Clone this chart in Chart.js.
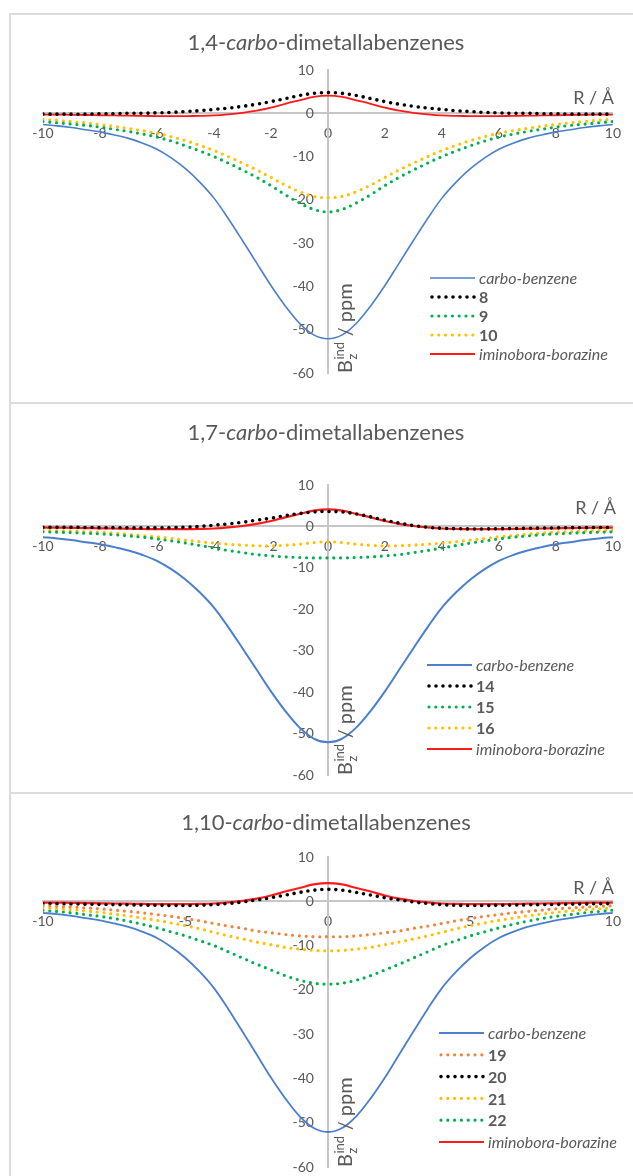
<!DOCTYPE html>
<html>
<head>
<meta charset="utf-8">
<script src="https://cdn.jsdelivr.net/npm/chart.js@4.4.0/dist/chart.umd.min.js"></script>
<style>
  html, body { margin: 0; padding: 0; background: #fff; }
  body { width: 633px; height: 1176px; position: relative; overflow: hidden; }
  .frame { position: absolute; left: 9px; width: 660px; border: 2px solid #dcdcdc; box-sizing: border-box; }
  canvas { position: absolute; left: 10px; }
</style>
</head>
<body>
<div class="frame" style="top:13px;height:391px"></div>
<div class="frame" style="top:402px;height:392px"></div>
<div class="frame" style="top:792px;height:420px"></div>
<canvas id="chart14" width="623" height="386" style="top:16px"></canvas>
<canvas id="chart17" width="623" height="387" style="top:405px"></canvas>
<canvas id="chart110" width="623" height="381" style="top:795px"></canvas>
<script>
// R / Angstrom, sampled every 0.5
const rValues = [-10, -9.5, -9, -8.5, -8, -7.5, -7, -6.5, -6, -5.5, -5, -4.5, -4, -3.5, -3, -2.5, -2, -1.5, -1, -0.5, 0,
  0.5, 1, 1.5, 2, 2.5, 3, 3.5, 4, 4.5, 5, 5.5, 6, 6.5, 7, 7.5, 8, 8.5, 9, 9.5, 10];

// reference compounds (same in all three panels)
const carboBenzene = [-2.6, -2.9, -3.3, -3.8, -4.3, -5.0, -5.8, -6.9, -8.3, -10.3, -12.8, -15.9, -19.6, -24.3, -29.4, -34.6, -39.8, -44.5, -48.5, -51.2, -52.1,
  -51.2, -48.5, -44.5, -39.8, -34.6, -29.4, -24.3, -19.6, -15.9, -12.8, -10.3, -8.3, -6.9, -5.8, -5.0, -4.3, -3.8, -3.3, -2.9, -2.6];
const iminoboraBorazine = [-0.3, -0.3, -0.35, -0.4, -0.45, -0.5, -0.55, -0.6, -0.65, -0.65, -0.65, -0.6, -0.5, -0.25, 0.1, 0.6, 1.3, 2.2, 3.0, 3.8, 4.1,
  3.8, 3.0, 2.2, 1.3, 0.6, 0.1, -0.25, -0.5, -0.6, -0.65, -0.65, -0.65, -0.6, -0.55, -0.5, -0.45, -0.4, -0.35, -0.3, -0.3];

// 1,4-carbo-dimetallabenzenes
const comp8 = [-0.2, -0.2, -0.2, -0.2, -0.1, -0.1, 0, 0, 0.1, 0.2, 0.4, 0.6, 0.9, 1.2, 1.6, 2.1, 2.7, 3.4, 4.1, 4.6, 4.8,
  4.6, 4.1, 3.4, 2.7, 2.1, 1.6, 1.2, 0.9, 0.6, 0.4, 0.2, 0.1, 0, 0, -0.1, -0.1, -0.2, -0.2, -0.2, -0.2];
const comp9 = [-1.9, -2.2, -2.5, -2.8, -3.2, -3.7, -4.2, -4.8, -5.5, -6.4, -7.5, -8.7, -10.0, -11.5, -13.1, -14.8, -16.7, -18.8, -20.7, -22.2, -22.8,
  -22.2, -20.7, -18.8, -16.7, -14.8, -13.1, -11.5, -10.0, -8.7, -7.5, -6.4, -5.5, -4.8, -4.2, -3.7, -3.2, -2.8, -2.5, -2.2, -1.9];
const comp10 = [-1.4, -1.6, -1.9, -2.2, -2.6, -3.0, -3.5, -4.0, -4.6, -5.4, -6.3, -7.4, -8.6, -10.0, -11.5, -13.1, -14.8, -16.6, -18.1, -19.2, -19.5,
  -19.2, -18.1, -16.6, -14.8, -13.1, -11.5, -10.0, -8.6, -7.4, -6.3, -5.4, -4.6, -4.0, -3.5, -3.0, -2.6, -2.2, -1.9, -1.6, -1.4];

// 1,7-carbo-dimetallabenzenes
const comp14 = [-0.2, -0.2, -0.2, -0.25, -0.3, -0.3, -0.35, -0.35, -0.35, -0.3, -0.2, 0, 0.3, 0.6, 1.0, 1.5, 2.0, 2.6, 3.1, 3.5, 3.6,
  3.5, 3.0, 2.3, 1.5, 0.8, 0.2, -0.2, -0.45, -0.55, -0.6, -0.6, -0.55, -0.5, -0.45, -0.4, -0.35, -0.3, -0.3, -0.25, -0.25];
const comp15 = [-1.3, -1.4, -1.5, -1.65, -1.8, -2.0, -2.3, -2.6, -3.0, -3.5, -4.0, -4.6, -5.2, -5.8, -6.3, -6.8, -7.1, -7.35, -7.5, -7.6, -7.6,
  -7.6, -7.5, -7.35, -7.1, -6.8, -6.3, -5.8, -5.2, -4.6, -4.0, -3.5, -3.0, -2.6, -2.3, -2.0, -1.8, -1.65, -1.5, -1.4, -1.3];
const comp16 = [-0.9, -1.0, -1.1, -1.25, -1.4, -1.6, -1.9, -2.2, -2.5, -2.9, -3.3, -3.7, -4.0, -4.3, -4.5, -4.65, -4.7, -4.55, -4.3, -3.9, -3.7,
  -3.9, -4.3, -4.55, -4.7, -4.65, -4.5, -4.3, -4.0, -3.7, -3.3, -2.9, -2.5, -2.2, -1.9, -1.6, -1.4, -1.25, -1.1, -1.0, -0.9];

// 1,10-carbo-dimetallabenzenes
const comp19 = [-1.0, -1.15, -1.3, -1.5, -1.7, -2.0, -2.3, -2.6, -3.0, -3.4, -3.9, -4.4, -5.0, -5.6, -6.1, -6.7, -7.1, -7.5, -7.8, -8.0, -8.0,
  -8.0, -7.8, -7.5, -7.1, -6.7, -6.1, -5.6, -5.0, -4.4, -3.9, -3.4, -3.0, -2.6, -2.3, -2.0, -1.7, -1.5, -1.3, -1.15, -1.0];
const comp20 = [-0.5, -0.55, -0.6, -0.65, -0.7, -0.75, -0.8, -0.85, -0.9, -0.95, -0.95, -0.9, -0.75, -0.5, -0.15, 0.3, 0.8, 1.4, 2.0, 2.5, 2.7,
  2.5, 2.0, 1.4, 0.8, 0.3, -0.15, -0.5, -0.75, -0.9, -0.95, -0.95, -0.9, -0.85, -0.8, -0.75, -0.7, -0.65, -0.6, -0.55, -0.5];
const comp21 = [-1.5, -1.7, -1.9, -2.2, -2.5, -2.9, -3.3, -3.8, -4.3, -4.9, -5.5, -6.2, -7.0, -7.8, -8.5, -9.2, -9.8, -10.4, -10.8, -11.1, -11.2,
  -11.1, -10.8, -10.4, -9.8, -9.2, -8.5, -7.8, -7.0, -6.2, -5.5, -4.9, -4.3, -3.8, -3.3, -2.9, -2.5, -2.2, -1.9, -1.7, -1.5];
const comp22 = [-2.0, -2.3, -2.6, -3.0, -3.4, -3.9, -4.5, -5.2, -6.0, -6.9, -7.8, -8.9, -10.0, -11.4, -12.8, -14.2, -15.5, -16.8, -17.8, -18.5, -18.7,
  -18.5, -17.8, -16.8, -15.5, -14.2, -12.8, -11.4, -10.0, -8.9, -7.8, -6.9, -6.0, -5.2, -4.5, -3.9, -3.4, -3.0, -2.6, -2.3, -2.0];

const yTicksMin = -60;
const yTicksMax = 10;

const FONT = 'Lato, "Open Sans", sans-serif';
const GRAY = '#595959';
const AXIS = '#c6c6c6';
const COLORS = {
  blue: '#4a7fcb',
  black: '#000000',
  green: '#00b050',
  yellow: '#ffc000',
  orange: '#f4823a',
  red: '#ff1a1a'
};

function points(values) {
  return values.map((v, i) => ({ x: rValues[i], y: v }));
}

function solidLine(label, values, color, width) {
  return {
    label: label,
    data: points(values),
    borderColor: color,
    backgroundColor: color,
    borderWidth: width,
    pointRadius: 0,
    tension: 0.35,
    fill: false
  };
}

function dottedLine(label, values, color, width, gap) {
  return {
    label: label,
    data: points(values),
    borderColor: color,
    backgroundColor: color,
    borderWidth: width,
    borderDash: [0, gap],
    borderCapStyle: 'round',
    pointRadius: 0,
    tension: 0.35,
    fill: false
  };
}

// draws a row of text runs (normal / italic / bold) starting at x
function drawRuns(ctx, runs, x, y, size, align) {
  let total = 0;
  runs.forEach(r => {
    ctx.font = (r.style || '') + ' ' + size + 'px ' + FONT;
    r.w = ctx.measureText(r.text).width;
    total += r.w;
  });
  let cx = align === 'center' ? x - total / 2 : x;
  ctx.textAlign = 'left';
  runs.forEach(r => {
    ctx.font = (r.style || '') + ' ' + size + 'px ' + FONT;
    ctx.fillText(r.text, cx, y);
    cx += r.w;
  });
}

const decorPlugin = {
  id: 'decor',
  // y tick labels sit left of the crossing axis, under the curves
  beforeDatasetsDraw(chart) {
    const ctx = chart.ctx;
    const ys = chart.scales.y;
    const x0 = chart.scales.x.getPixelForValue(0);
    ctx.save();
    ctx.fillStyle = GRAY;
    ctx.font = '14px ' + FONT;
    ctx.textAlign = 'right';
    ctx.textBaseline = 'middle';
    ys.ticks.forEach(t => {
      ctx.fillText(String(t.value), x0 - 14, ys.getPixelForValue(t.value));
    });
    ctx.restore();
  },
  afterDraw(chart, args, opts) {
    const ctx = chart.ctx;
    const xs = chart.scales.x;
    const ys = chart.scales.y;
    const x0 = xs.getPixelForValue(0);
    const y0 = ys.getPixelForValue(0);
    ctx.save();
    ctx.fillStyle = GRAY;
    ctx.textBaseline = 'middle';

    // title
    drawRuns(ctx, opts.title, x0 - 2, opts.titleY, 22, 'center');

    // x axis name
    ctx.textBaseline = 'alphabetic';
    ctx.font = '18px ' + FONT;
    ctx.textAlign = 'right';
    ctx.fillText('R / Å', opts.rRight, y0 - opts.rLift);

    // y axis name, rotated, starting at the bottom of the axis
    ctx.save();
    ctx.translate(x0 + 24, ys.getPixelForValue(yTicksMin));
    ctx.rotate(-Math.PI / 2);
    ctx.textAlign = 'left';
    ctx.font = '20px ' + FONT;
    ctx.fillText('B', 0, 0);
    let off = ctx.measureText('B').width;
    ctx.font = '13px ' + FONT;
    ctx.fillText('ind', off + 0.5, -8);
    ctx.fillText('z', off + 0.5, 5);
    off += ctx.measureText('ind').width + 1;
    ctx.font = '20px ' + FONT;
    ctx.fillText(' / ppm', off, 0);
    ctx.restore();

    // legend
    const lg = opts.legend;
    ctx.textBaseline = 'middle';
    chart.data.datasets.forEach((ds, i) => {
      const y = lg.y + i * lg.gap;
      ctx.save();
      ctx.strokeStyle = ds.borderColor;
      ctx.lineWidth = ds.borderWidth;
      ctx.lineCap = ds.borderDash ? 'round' : 'butt';
      ctx.setLineDash(ds.borderDash || []);
      ctx.beginPath();
      ctx.moveTo(lg.x + (ds.borderDash ? 2 : 0), y);
      ctx.lineTo(lg.x + 45, y);
      ctx.stroke();
      ctx.restore();
      const style = /^\d+$/.test(ds.label) ? 'bold' : 'italic';
      drawRuns(ctx, [{ text: ds.label, style: style }], lg.x + 49, y + 1, 16, 'left');
    });
    ctx.restore();
  }
};

function makeChart(id, datasets, xStep, padding, decor) {
  return new Chart(document.getElementById(id), {
    type: 'line',
    data: { datasets: datasets },
    options: {
      responsive: false,
      animation: false,
      layout: { padding: padding },
      plugins: {
        legend: { display: false },
        tooltip: { enabled: false },
        decor: decor
      },
      scales: {
        x: {
          type: 'linear',
          min: -10,
          max: 10,
          position: { y: 0 },
          grid: { display: false, drawTicks: false },
          border: { display: true, color: AXIS, width: 2 },
          ticks: { stepSize: xStep, padding: 12, color: GRAY, font: { family: FONT, size: 14 }, maxRotation: 0 }
        },
        y: {
          type: 'linear',
          min: yTicksMin,
          max: yTicksMax,
          position: { x: 0 },
          grid: { display: false, drawTicks: false },
          border: { display: true, color: AXIS, width: 2 },
          ticks: { stepSize: 10, display: false }
        }
      }
    },
    plugins: [decorPlugin]
  });
}

makeChart('chart14', [
  solidLine('carbo-benzene', carboBenzene, COLORS.blue, 1.6),
  dottedLine('8', comp8, COLORS.black, 3.6, 7),
  dottedLine('9', comp9, COLORS.green, 3.2, 6.8),
  dottedLine('10', comp10, COLORS.yellow, 3.2, 6.8),
  solidLine('iminobora-borazine', iminoboraBorazine, COLORS.red, 1.8)
], 2, { left: 33, right: 16, top: 54, bottom: 29 }, {
  title: [{ text: '1,4-' }, { text: 'carbo', style: 'italic' }, { text: '-dimetallabenzenes' }],
  titleY: 27, rRight: 604, rLift: 9,
  legend: { x: 420, y: 262, gap: 19 }
});

makeChart('chart17', [
  solidLine('carbo-benzene', carboBenzene, COLORS.blue, 2),
  dottedLine('14', comp14, COLORS.black, 3.6, 7),
  dottedLine('15', comp15, COLORS.green, 3.2, 6.8),
  dottedLine('16', comp16, COLORS.yellow, 3.2, 6.8),
  solidLine('iminobora-borazine', iminoboraBorazine, COLORS.red, 2.2)
], 2, { left: 33, right: 16, top: 80, bottom: 17 }, {
  title: [{ text: '1,7-' }, { text: 'carbo', style: 'italic' }, { text: '-dimetallabenzenes' }],
  titleY: 28, rRight: 606, rLift: 12,
  legend: { x: 417, y: 260, gap: 21 }
});

makeChart('chart110', [
  solidLine('carbo-benzene', carboBenzene, COLORS.blue, 1.8),
  dottedLine('19', comp19, COLORS.orange, 3.2, 6.8),
  dottedLine('20', comp20, COLORS.black, 3.6, 7),
  dottedLine('21', comp21, COLORS.yellow, 3.2, 6.8),
  dottedLine('22', comp22, COLORS.green, 3.2, 6.8),
  solidLine('iminobora-borazine', iminoboraBorazine, COLORS.red, 2.2)
], 5, { left: 33, right: 16, top: 62, bottom: 9 }, {
  title: [{ text: '1,10-' }, { text: 'carbo', style: 'italic' }, { text: '-dimetallabenzenes' }],
  titleY: 28, rRight: 604, rLift: 7,
  legend: { x: 429, y: 238, gap: 21.8 }
});
</script>
</body>
</html>
